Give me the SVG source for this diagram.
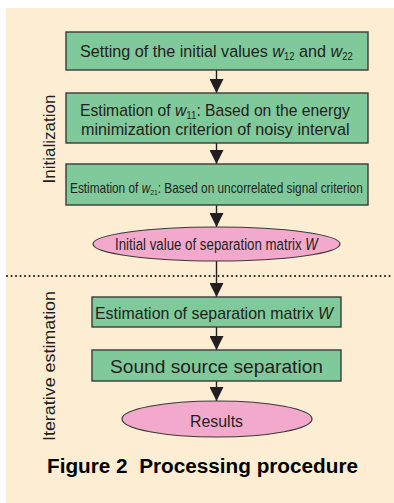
<svg xmlns="http://www.w3.org/2000/svg" width="394" height="503" viewBox="0 0 394 503">
<defs>
<style>
.box{fill:#80c99b;stroke:#3a3a3a;stroke-width:1.4}
.ell{fill:#f2a9cc;stroke:#3a3a3a;stroke-width:1.2}
.t{font-family:"Liberation Sans",Arial,sans-serif;fill:#231f20;font-size:17px}
.sub{font-size:10px}
.lab{font-family:"Liberation Sans",Arial,sans-serif;fill:#231f20;font-size:17px}
.con{stroke:#231f20;stroke-width:1.4;fill:none}
</style>
<marker id="ah" viewBox="0 0 14 14" markerWidth="14" markerHeight="14" refX="14" refY="7" orient="auto" markerUnits="userSpaceOnUse">
<path d="M0,0 L14,7 L0,14 Z" fill="#231f20"/>
</marker>
</defs>
<rect x="0" y="0" width="394" height="503" fill="#ffffff"/>
<rect x="6" y="8" width="388" height="495" fill="#fdeed3"/>
<line x1="7" y1="276" x2="394" y2="276" stroke="#231f20" stroke-width="2" stroke-dasharray="0.1 4.4" stroke-linecap="round"/>
<text class="lab" transform="translate(55,139) rotate(-90)" text-anchor="middle">Initialization</text>
<text class="lab" transform="translate(55,366) rotate(-90)" text-anchor="middle" textLength="150" lengthAdjust="spacingAndGlyphs">Iterative estimation</text>
<g id="connectors">
<line class="con" x1="216.5" y1="70" x2="216.5" y2="93" marker-end="url(#ah)"/>
<line class="con" x1="216.5" y1="143" x2="216.5" y2="164" marker-end="url(#ah)"/>
<line class="con" x1="216.5" y1="205" x2="216.5" y2="227" marker-end="url(#ah)"/>
<line class="con" x1="216.5" y1="261" x2="216.5" y2="297" marker-end="url(#ah)"/>
<line class="con" x1="216.5" y1="327" x2="216.5" y2="350" marker-end="url(#ah)"/>
<line class="con" x1="216.5" y1="381" x2="216.5" y2="401" marker-end="url(#ah)"/>
</g>
<g id="n1">
<rect class="box" x="66" y="32" width="302" height="38"/>
<text class="t" transform="translate(80,57) scale(0.952,1)">Setting of the initial values <tspan font-style="italic">w</tspan><tspan class="sub" dy="3">12</tspan><tspan dy="-3"> and </tspan><tspan font-style="italic">w</tspan><tspan class="sub" dy="3">22</tspan></text>
</g>
<g id="n2">
<rect class="box" x="66" y="93" width="302" height="50"/>
<text class="t" transform="translate(80,116) scale(0.98,1)" style="font-size:16px">Estimation of <tspan font-style="italic">w</tspan><tspan class="sub" dy="3">11</tspan><tspan dy="-3">: Based on the energy</tspan></text>
<text class="t" transform="translate(81,135) scale(1.01,1)" style="font-size:16px">minimization criterion of noisy interval</text>
</g>
<g id="n3">
<rect class="box" x="66" y="164" width="302" height="41"/>
<text class="t" transform="translate(70,193) scale(0.845,1)" style="font-size:14px">Estimation of <tspan font-style="italic">w</tspan><tspan class="sub" style="font-size:8px" dy="2">21</tspan><tspan dy="-2">: Based on uncorrelated signal criterion</tspan></text>
</g>
<g id="n4">
<ellipse class="ell" cx="216.5" cy="244" rx="123.5" ry="17"/>
<text class="t" transform="translate(115,250) scale(0.805,1)" style="font-size:16.5px">Initial value of separation matrix <tspan font-style="italic">W</tspan></text>
</g>
<g id="n5">
<rect class="box" x="92" y="297" width="249" height="30"/>
<text class="t" transform="translate(95,319) scale(0.937,1)">Estimation of separation matrix <tspan font-style="italic">W</tspan></text>
</g>
<g id="n6">
<rect class="box" x="92" y="350" width="249" height="31"/>
<text class="t" x="110" y="373" style="font-size:19px" textLength="213" lengthAdjust="spacingAndGlyphs">Sound source separation</text>
</g>
<g id="n7">
<ellipse class="ell" cx="217" cy="419" rx="95" ry="18"/>
<text class="t" x="190" y="427" style="font-size:16.5px" textLength="53" lengthAdjust="spacingAndGlyphs">Results</text>
</g>
<text x="47" y="473" font-family="Liberation Sans,Arial,sans-serif" font-weight="bold" font-size="20" fill="#000" textLength="311" lengthAdjust="spacingAndGlyphs" xml:space="preserve">Figure 2  Processing procedure</text>
</svg>
